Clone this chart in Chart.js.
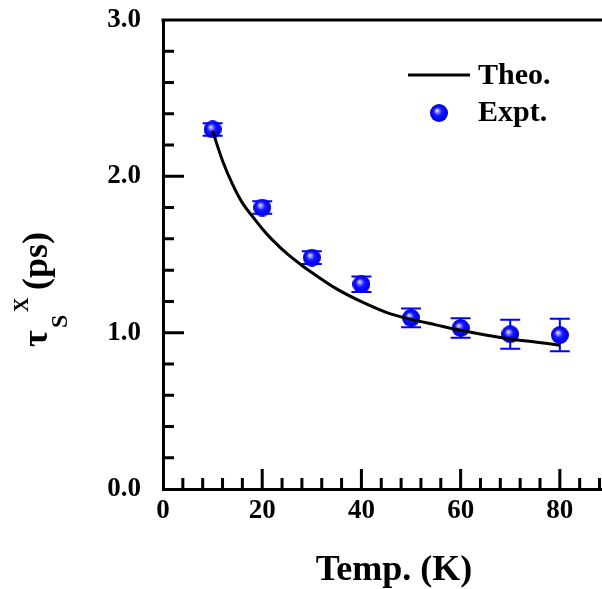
<!DOCTYPE html>
<html>
<head>
<meta charset="utf-8">
<script src="https://cdn.jsdelivr.net/npm/chart.js@4.4.0/dist/chart.umd.min.js"></script>
<style>
  html, body { margin: 0; padding: 0; background: #fff; overflow: hidden; }
</style>
</head>
<body>
<canvas id="chart" width="602" height="589"></canvas>
<script>
const temps = [10, 20, 30, 40, 50, 60, 70, 80];
const exptTau = [2.30, 1.80, 1.48, 1.31, 1.095, 1.03, 0.99, 0.985];
const exptErr = [0.04, 0.04, 0.04, 0.05, 0.06, 0.063, 0.093, 0.104];

const theoTemps = [10, 12, 14, 16, 18, 20, 22, 25, 28, 30, 35, 40, 45, 50, 55, 60, 65, 70, 75, 80];
const theoTau = [2.29, 2.10, 1.95, 1.83, 1.745, 1.665, 1.595, 1.505, 1.43, 1.385, 1.28, 1.198, 1.13, 1.085, 1.05, 1.015, 0.985, 0.96, 0.94, 0.92];

const xTickLabels = [0, 20, 40, 60, 80];
const yTickLabels = [0, 1, 2, 3];

const serif = "'Liberation Serif', 'Times New Roman', serif";

// shaded blue ball used for the experimental points
function makeBall(r) {
    const c = document.createElement('canvas');
    c.width = c.height = r * 2;
    const g = c.getContext('2d');
    const grad = g.createRadialGradient(r * 0.75, r * 0.7, 0, r, r, r);
    grad.addColorStop(0, '#ffffff');
    grad.addColorStop(0.15, '#a8a8ff');
    grad.addColorStop(0.45, '#1a1aff');
    grad.addColorStop(0.85, '#0000f0');
    grad.addColorStop(1, '#0000c0');
    g.fillStyle = grad;
    g.beginPath();
    g.arc(r, r, r, 0, Math.PI * 2);
    g.fill();
    return c;
}
const ball = makeBall(9);

const decorPlugin = {
    id: 'decor',
    beforeDatasetsDraw(chart) {
        const ctx = chart.ctx;
        const x = chart.scales.x, y = chart.scales.y;
        ctx.save();
        ctx.strokeStyle = '#0000ff';
        ctx.lineWidth = 2;
        temps.forEach((t, i) => {
            const px = x.getPixelForValue(t);
            const top = y.getPixelForValue(exptTau[i] + exptErr[i]);
            const bot = y.getPixelForValue(exptTau[i] - exptErr[i]);
            ctx.beginPath();
            ctx.moveTo(px, top); ctx.lineTo(px, bot);
            ctx.moveTo(px - 10, top); ctx.lineTo(px + 10, top);
            ctx.moveTo(px - 10, bot); ctx.lineTo(px + 10, bot);
            ctx.stroke();
        });
        ctx.restore();
    },
    afterDraw(chart) {
        const ctx = chart.ctx;
        const area = chart.chartArea;
        const x = chart.scales.x, y = chart.scales.y;
        ctx.save();
        ctx.strokeStyle = '#000';
        ctx.lineWidth = 3;

        // top frame line
        ctx.beginPath();
        ctx.moveTo(area.left - 1.5, area.top);
        ctx.lineTo(chart.width, area.top);
        ctx.stroke();

        // inward ticks
        ctx.beginPath();
        for (let v = 4; v <= 88; v += 4) {
            const px = x.getPixelForValue(v);
            const len = v % 20 === 0 ? 20 : 11;
            ctx.moveTo(px, area.bottom);
            ctx.lineTo(px, area.bottom - len);
        }
        for (let k = 1; k < 15; k++) {
            const v = k * 0.2;
            const py = y.getPixelForValue(v);
            const len = k % 5 === 0 ? 21 : 11;
            ctx.moveTo(area.left, py);
            ctx.lineTo(area.left + len, py);
        }
        ctx.stroke();

        // legend
        ctx.fillStyle = '#000';
        ctx.font = 'bold 30px ' + serif;
        ctx.textBaseline = 'alphabetic';
        ctx.textAlign = 'left';
        ctx.beginPath();
        ctx.moveTo(408, 75);
        ctx.lineTo(470, 75);
        ctx.stroke();
        ctx.fillText('Theo.', 478, 84);
        ctx.drawImage(ball, 439 - 9, 113 - 9);
        ctx.fillText('Expt.', 478, 121);

        // x axis title
        ctx.font = 'bold 36px ' + serif;
        ctx.textAlign = 'center';
        ctx.fillText('Temp. (K)', 394, 580);

        // y axis title: tau_S^X (ps), rotated
        ctx.translate(47, 347);
        ctx.rotate(-Math.PI / 2);
        ctx.textAlign = 'left';
        ctx.font = 'bold 36px ' + serif;
        ctx.fillText('\u03C4', 0, 0);
        ctx.font = 'bold 24px ' + serif;
        ctx.fillText('S', 19, 20);
        ctx.font = 'bold 20px ' + serif;
        ctx.fillText('X', 35, -19);
        ctx.font = 'bold 36px ' + serif;
        ctx.fillText('(ps)', 57, 0);
        ctx.restore();
    }
};

new Chart(document.getElementById('chart'), {
    type: 'scatter',
    data: {
        datasets: [
            {
                type: 'line',
                label: 'Theo.',
                data: theoTemps.map((t, i) => ({ x: t, y: theoTau[i] })),
                borderColor: '#000',
                borderWidth: 3,
                pointRadius: 0,
                fill: false,
                cubicInterpolationMode: 'monotone'
            },
            {
                label: 'Expt.',
                data: temps.map((t, i) => ({ x: t, y: exptTau[i] })),
                pointStyle: ball,
                pointRadius: 9
            }
        ]
    },
    options: {
        responsive: false,
        animation: false,
        layout: { autoPadding: false, padding: { top: 20, right: 0, left: 0, bottom: 0 } },
        plugins: {
            legend: { display: false },
            tooltip: { enabled: false }
        },
        scales: {
            x: {
                type: 'linear',
                min: 0,
                max: 88.5,
                afterBuildTicks: s => { s.ticks = xTickLabels.map(v => ({ value: v })); },
                afterFit: s => { s.height = 100; s.paddingLeft = 0; s.paddingRight = 0; },
                grid: { display: false, drawTicks: false },
                border: { display: true, color: '#000', width: 3 },
                ticks: {
                    color: '#000',
                    padding: 6,
                    maxRotation: 0,
                    font: { family: serif, size: 27, weight: 'bold' }
                }
            },
            y: {
                min: 0,
                max: 3,
                afterBuildTicks: s => { s.ticks = yTickLabels.map(v => ({ value: v })); },
                afterFit: s => { s.width = 163; s.paddingTop = 0; s.paddingBottom = 0; },
                grid: { display: false, drawTicks: false },
                border: { display: true, color: '#000', width: 3 },
                ticks: {
                    color: '#000',
                    padding: 22,
                    callback: v => v.toFixed(1),
                    font: { family: serif, size: 27, weight: 'bold' }
                }
            }
        }
    },
    plugins: [decorPlugin]
});
</script>
</body>
</html>
